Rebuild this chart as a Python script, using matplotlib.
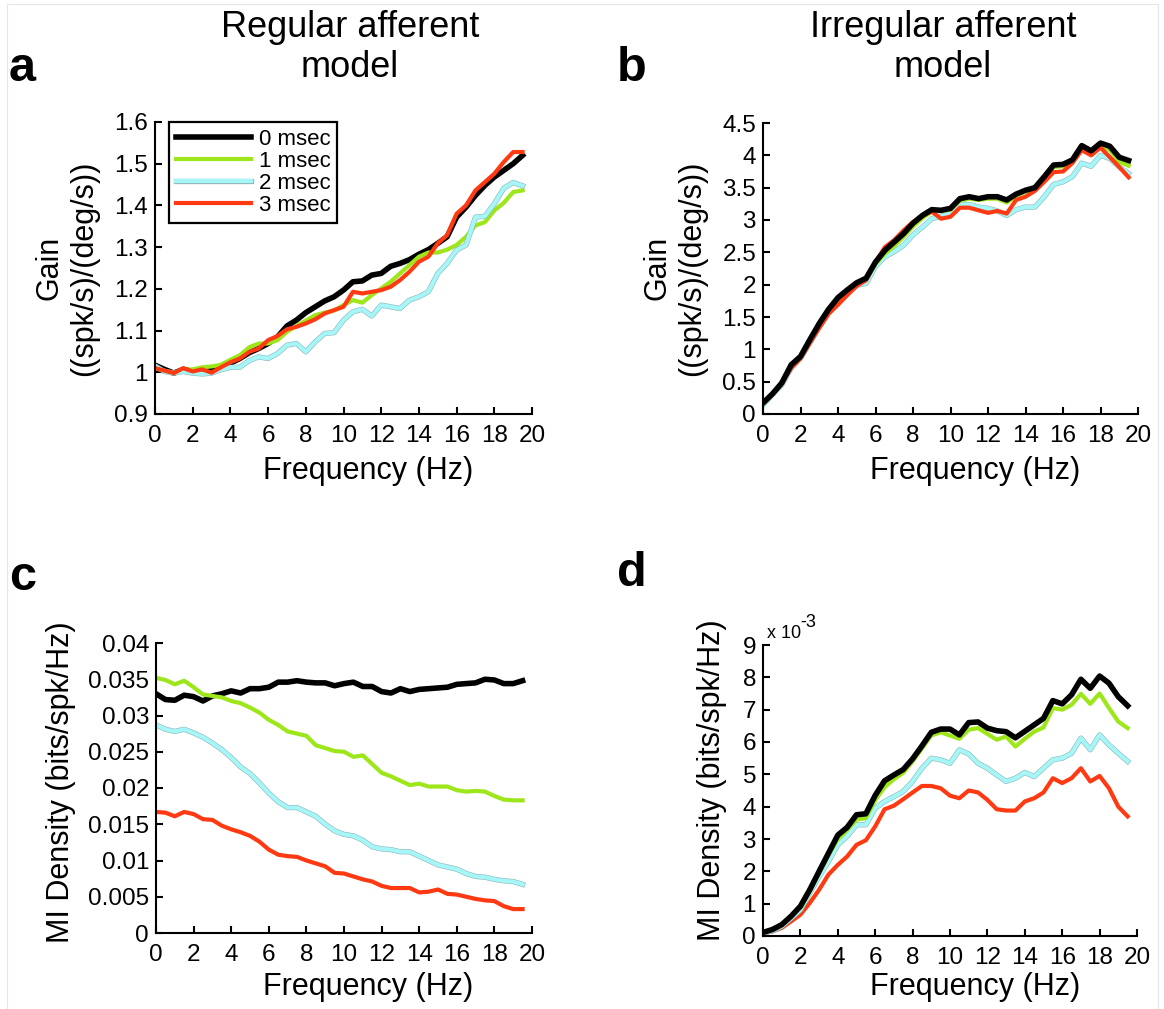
import numpy as np
import matplotlib
matplotlib.use("Agg")
import matplotlib.pyplot as plt
import matplotlib.patheffects as pe
from matplotlib.ticker import FuncFormatter

plt.rcParams['font.family'] = ['Liberation Sans', 'DejaVu Sans']

# frequency axis (Hz), 0.5 Hz steps
freq = np.arange(0, 20, 0.5)
delays = ["0 msec", "1 msec", "2 msec", "3 msec"]
colors = ["#000000", "#9de61a", "#a6f5f7", "#ff3a12"]

# a: regular afferent gain
gain_reg_0 = [1.017, 1.007, 0.998, 1.007, 1.002, 1.005, 1.004, 1.014, 1.022, 1.033,
              1.047, 1.057, 1.069, 1.085, 1.111, 1.125, 1.143, 1.157, 1.171, 1.181,
              1.197, 1.217, 1.219, 1.233, 1.237, 1.254, 1.261, 1.270, 1.283, 1.294,
              1.309, 1.325, 1.372, 1.396, 1.424, 1.448, 1.468, 1.484, 1.500, 1.520]
gain_reg_1 = [1.010, 1.004, 0.998, 1.006, 1.007, 1.012, 1.014, 1.018, 1.030, 1.041,
              1.060, 1.069, 1.069, 1.077, 1.097, 1.111, 1.124, 1.137, 1.143, 1.148,
              1.161, 1.173, 1.167, 1.185, 1.201, 1.217, 1.237, 1.257, 1.277, 1.287,
              1.287, 1.294, 1.305, 1.325, 1.352, 1.360, 1.388, 1.406, 1.432, 1.436]
gain_reg_2 = [1.015, 1.002, 0.998, 1.002, 0.998, 0.996, 0.998, 1.006, 1.012, 1.012,
              1.028, 1.037, 1.033, 1.045, 1.065, 1.069, 1.049, 1.073, 1.093, 1.095,
              1.125, 1.145, 1.151, 1.135, 1.161, 1.157, 1.153, 1.173, 1.181, 1.193,
              1.237, 1.261, 1.293, 1.305, 1.372, 1.374, 1.404, 1.441, 1.455, 1.447]
gain_reg_3 = [1.010, 1.004, 0.998, 1.010, 1.002, 1.007, 0.999, 1.012, 1.024, 1.033,
              1.049, 1.057, 1.077, 1.087, 1.103, 1.109, 1.117, 1.127, 1.141, 1.149,
              1.157, 1.193, 1.189, 1.193, 1.197, 1.205, 1.221, 1.241, 1.265, 1.277,
              1.309, 1.329, 1.380, 1.400, 1.436, 1.456, 1.476, 1.504, 1.528, 1.528]

# b: irregular afferent gain
gain_irr_0 = [0.17, 0.31, 0.48, 0.76, 0.89, 1.15, 1.40, 1.62, 1.80, 1.92,
              2.03, 2.10, 2.35, 2.53, 2.66, 2.79, 2.95, 3.07, 3.16, 3.15,
              3.18, 3.33, 3.36, 3.33, 3.36, 3.36, 3.31, 3.40, 3.46, 3.50,
              3.67, 3.85, 3.86, 3.93, 4.15, 4.07, 4.19, 4.14, 3.97, 3.92]
gain_irr_1 = [0.16, 0.30, 0.47, 0.74, 0.88, 1.13, 1.38, 1.60, 1.77, 1.90,
              2.01, 2.08, 2.32, 2.48, 2.60, 2.74, 2.90, 3.03, 3.13, 3.14,
              3.16, 3.30, 3.33, 3.31, 3.33, 3.33, 3.27, 3.37, 3.44, 3.48,
              3.64, 3.82, 3.83, 3.90, 4.11, 4.03, 4.15, 4.08, 3.90, 3.84]
gain_irr_2 = [0.14, 0.30, 0.45, 0.71, 0.86, 1.10, 1.35, 1.56, 1.74, 1.87,
              1.99, 2.02, 2.28, 2.43, 2.51, 2.61, 2.77, 2.89, 3.02, 3.06,
              3.10, 3.24, 3.24, 3.20, 3.18, 3.14, 3.07, 3.16, 3.20, 3.20,
              3.36, 3.55, 3.59, 3.67, 3.88, 3.83, 4.00, 3.95, 3.82, 3.72]
gain_irr_3 = [0.17, 0.31, 0.47, 0.71, 0.86, 1.10, 1.33, 1.55, 1.69, 1.84,
              1.98, 2.07, 2.35, 2.58, 2.69, 2.84, 2.97, 3.07, 3.13, 3.02,
              3.05, 3.19, 3.19, 3.15, 3.11, 3.14, 3.10, 3.31, 3.36, 3.45,
              3.59, 3.74, 3.75, 3.88, 4.08, 4.00, 4.12, 3.97, 3.82, 3.66]

# c: regular afferent MI density (bits/spk/Hz)
mi_reg_0 = [0.0330, 0.0322, 0.0321, 0.0328, 0.0326, 0.0320, 0.0327, 0.0330, 0.0334, 0.0331,
            0.0337, 0.0337, 0.0339, 0.0346, 0.0346, 0.0348, 0.0346, 0.0345, 0.0345, 0.0341,
            0.0344, 0.0346, 0.0340, 0.0340, 0.0333, 0.0331, 0.0337, 0.0333, 0.0336, 0.0337,
            0.0338, 0.0339, 0.0343, 0.0344, 0.0345, 0.0350, 0.0349, 0.0344, 0.0344, 0.0348]
mi_reg_1 = [0.0352, 0.0349, 0.0343, 0.0348, 0.0339, 0.0329, 0.0327, 0.0325, 0.0320, 0.0317,
            0.0311, 0.0304, 0.0294, 0.0287, 0.0278, 0.0275, 0.0272, 0.0259, 0.0255, 0.0251,
            0.0250, 0.0243, 0.0245, 0.0233, 0.0221, 0.0216, 0.0210, 0.0204, 0.0206, 0.0202,
            0.0202, 0.0202, 0.0197, 0.0195, 0.0196, 0.0195, 0.0189, 0.0184, 0.0183, 0.0183]
mi_reg_2 = [0.0287, 0.0281, 0.0278, 0.0281, 0.0276, 0.0270, 0.0262, 0.0253, 0.0242, 0.0229,
            0.0220, 0.0207, 0.0193, 0.0181, 0.0173, 0.0173, 0.0167, 0.0161, 0.0150, 0.0141,
            0.0136, 0.0134, 0.0128, 0.0119, 0.0116, 0.0115, 0.0112, 0.0112, 0.0106, 0.0100,
            0.0094, 0.0091, 0.0088, 0.0082, 0.0078, 0.0077, 0.0074, 0.0072, 0.0071, 0.0067]
mi_reg_3 = [0.0167, 0.0166, 0.0161, 0.0167, 0.0164, 0.0157, 0.0156, 0.0148, 0.0143, 0.0139,
            0.0134, 0.0126, 0.0115, 0.0108, 0.0106, 0.0105, 0.0100, 0.0096, 0.0092, 0.0083,
            0.0082, 0.0078, 0.0074, 0.0071, 0.0065, 0.0062, 0.0062, 0.0062, 0.0056, 0.0057,
            0.0060, 0.0054, 0.0053, 0.0050, 0.0047, 0.0045, 0.0044, 0.0037, 0.0033, 0.0033]

# d: irregular afferent MI density (x 10^-3 bits/spk/Hz)
mi_irr_0 = [0.11, 0.20, 0.35, 0.61, 0.92, 1.43, 2.00, 2.56, 3.12, 3.36,
            3.75, 3.78, 4.35, 4.80, 4.98, 5.15, 5.48, 5.88, 6.30, 6.40,
            6.40, 6.22, 6.60, 6.62, 6.43, 6.35, 6.32, 6.13, 6.33, 6.53,
            6.73, 7.28, 7.18, 7.46, 7.94, 7.66, 8.04, 7.82, 7.40, 7.12]
mi_irr_1 = [0.10, 0.20, 0.33, 0.62, 0.88, 1.38, 1.95, 2.50, 3.00, 3.28,
            3.60, 3.65, 4.20, 4.60, 4.85, 5.05, 5.40, 5.80, 6.20, 6.30,
            6.20, 6.10, 6.38, 6.43, 6.25, 6.07, 6.17, 5.86, 6.10, 6.32,
            6.45, 7.05, 7.00, 7.15, 7.49, 7.18, 7.50, 7.05, 6.63, 6.43]
mi_irr_2 = [0.10, 0.16, 0.30, 0.55, 0.81, 1.33, 1.84, 2.30, 2.82, 3.08,
            3.44, 3.44, 3.95, 4.16, 4.31, 4.47, 4.78, 5.19, 5.50, 5.45,
            5.34, 5.76, 5.63, 5.34, 5.19, 4.98, 4.78, 4.88, 5.06, 4.93,
            5.19, 5.45, 5.50, 5.65, 6.12, 5.76, 6.22, 5.91, 5.65, 5.40]
mi_irr_3 = [0.09, 0.14, 0.25, 0.45, 0.66, 1.02, 1.43, 1.90, 2.20, 2.46,
            2.82, 2.96, 3.39, 3.92, 4.03, 4.23, 4.44, 4.64, 4.64, 4.57,
            4.34, 4.26, 4.50, 4.44, 4.21, 3.92, 3.88, 3.88, 4.16, 4.26,
            4.44, 4.88, 4.73, 4.88, 5.19, 4.78, 4.95, 4.57, 4.00, 3.70]

W, H = 1164, 1009
fig = plt.figure(figsize=(W / 100, H / 100), dpi=100)


def px_axes(l, t, r, b):
    return fig.add_axes([l / W, 1 - b / H, (r - l) / W, (b - t) / H])


def style(ax, ylim, yticks):
    ax.set_xlim(0, 20)
    ax.set_ylim(*ylim)
    ax.set_xticks(np.arange(0, 21, 2))
    ax.set_yticks(yticks)
    ax.yaxis.set_major_formatter(FuncFormatter(lambda v, p: "%g" % round(v, 4)))
    for s in ["top", "right"]:
        ax.spines[s].set_visible(False)
    for s in ["left", "bottom"]:
        ax.spines[s].set_linewidth(1.5)
    ax.tick_params(direction="in", length=5, width=1.5, labelsize=17.5)
    ax.tick_params(axis="x", pad=8)
    ax.tick_params(axis="y", pad=5)
    ax.set_xlabel("Frequency (Hz)", fontsize=22)


def draw(ax, series, order):
    for i in order:
        lw = 4.0 if i == 0 else 3.0
        kw = {}
        if i == 2:
            kw["path_effects"] = [pe.Stroke(linewidth=lw + 0.8, foreground="#8fb5b8"), pe.Normal()]
        ax.plot(freq, series[i], color=colors[i], lw=lw, label=delays[i],
                solid_joinstyle="round", **kw)


ax_a = px_axes(155, 122, 532, 414)
draw(ax_a, [gain_reg_0, gain_reg_1, gain_reg_2, gain_reg_3], [0, 1, 2, 3])
style(ax_a, (0.9, 1.6), np.arange(0.9, 1.61, 0.1))
handles, labels = ax_a.get_legend_handles_labels()
leg = ax_a.legend(handles, labels, loc="upper left", bbox_to_anchor=(0.037, 1.0),
                  borderaxespad=0, fontsize=16, handlelength=3.4, labelspacing=0.05,
                  borderpad=0.3, handletextpad=0.35, fancybox=False, framealpha=1,
                  edgecolor="black")
leg.get_frame().set_linewidth(1.6)

ax_b = px_axes(763, 123, 1138, 414)
draw(ax_b, [gain_irr_0, gain_irr_1, gain_irr_2, gain_irr_3], [2, 1, 3, 0])
style(ax_b, (0, 4.5), np.arange(0, 4.51, 0.5))

ax_c = px_axes(156, 643, 532, 933)
draw(ax_c, [mi_reg_0, mi_reg_1, mi_reg_2, mi_reg_3], [0, 1, 2, 3])
style(ax_c, (0, 0.04), np.arange(0, 0.0401, 0.005))

ax_d = px_axes(763, 645, 1137, 936)
draw(ax_d, [mi_irr_0, mi_irr_1, mi_irr_2, mi_irr_3], [3, 2, 1, 0])
style(ax_d, (0, 9), np.arange(0, 10, 1))

# y labels: centre position in pixels
for ax, lab, xc, yc in [(ax_a, "Gain\n((spk/s)/(deg/s))", 67, 268),
                        (ax_b, "Gain\n((spk/s)/(deg/s))", 675, 268),
                        (ax_c, "MI Density (bits/spk/Hz)", 61, 782),
                        (ax_d, "MI Density (bits/spk/Hz)", 712, 780)]:
    ax.set_ylabel(lab, fontsize=22, linespacing=1.2)
    ax.yaxis.label.set_va("center")
    bb = ax.get_position()
    ax.yaxis.set_label_coords((xc / W - bb.x0) / bb.width,
                              ((1 - yc / H) - bb.y0) / bb.height)

# x labels: centre x and top y in pixels
for ax, xc, ytop in [(ax_a, 368, 456), (ax_b, 975, 456), (ax_c, 368, 972), (ax_d, 975, 972)]:
    bb = ax.get_position()
    ax.xaxis.set_label_coords((xc / W - bb.x0) / bb.width,
                              ((1 - ytop / H) - bb.y0) / bb.height)

# scale note on panel d
fig.text(767 / W, 1 - 638 / H, "x 10", fontsize=13, ha="left", va="baseline")
fig.text(800 / W, 1 - 627 / H, "-3", fontsize=13, ha="left", va="baseline")

# titles and panel letters
for title, xc in [("Regular afferent", 350), ("Irregular afferent", 943)]:
    fig.text(xc / W, 1 - 37 / H, title, fontsize=26, ha="center", va="baseline")
    fig.text(xc / W, 1 - 77 / H, "model", fontsize=26, ha="center", va="baseline")
for letter, x, y in [("a", 9, 81), ("b", 617, 81), ("c", 9, 590), ("d", 617, 586)]:
    fig.text(x / W, 1 - y / H, letter, fontsize=35, fontweight="bold", ha="left",
             va="baseline")

# faint frame around the figure
fig.add_artist(plt.Rectangle((7 / W, -0.01), (1158 - 7) / W, 1 - 4 / H + 0.01,
                             transform=fig.transFigure, fill=False, edgecolor="#e6e6e6",
                             lw=0.8))

fig.savefig("out.png", dpi=100)
